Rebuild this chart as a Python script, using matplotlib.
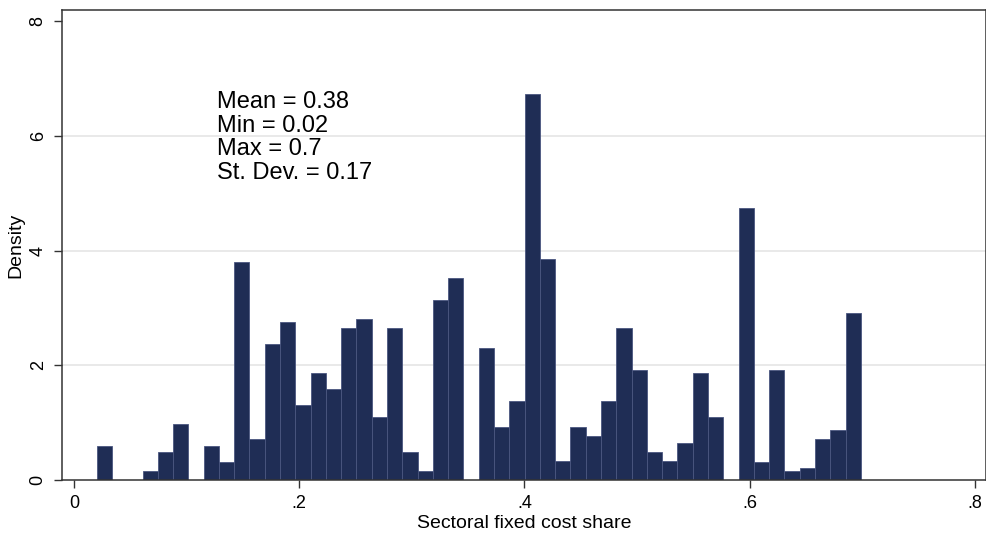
import numpy as np
import matplotlib.pyplot as plt

plt.rcParams['font.family'] = ['Liberation Sans', 'DejaVu Sans']

# histogram of sectoral fixed cost shares: 50 equal-width bins between min and max
bin_lo = 0.0201
bin_hi = 0.6988
density = [0.595, 0.0, 0.0, 0.152, 0.484, 0.98, 0.0, 0.595, 0.32, 3.806,
           0.71, 2.37, 2.757, 1.31, 1.87, 1.59, 2.645, 2.81, 1.10, 2.645,
           0.49, 0.157, 3.14, 3.53, 0.0, 2.31, 0.927, 1.376, 6.73, 3.86,
           0.327, 0.927, 0.764, 1.376, 2.645, 1.923, 0.49, 0.327, 0.653, 1.866,
           1.10, 0.0, 4.74, 0.32, 1.92, 0.152, 0.215, 0.71, 0.88, 2.915]

summary_lines = ["Mean = 0.38", "Min = 0.02", "Max = 0.7", "St. Dev. = 0.17"]

x_ticks = [0, 0.2, 0.4, 0.6, 0.8]
x_ticklabels = ["0", ".2", ".4", ".6", ".8"]
y_ticks = [0, 2, 4, 6, 8]

edges = np.linspace(bin_lo, bin_hi, len(density) + 1)
widths = np.diff(edges)

fig = plt.figure(figsize=(9.87, 5.39), dpi=100)
ax = fig.add_axes([0.0628, 0.1095, 0.9362, 0.8719])

ax.bar(edges[:-1], density, width=widths, align='edge',
       color='#1f2d55', edgecolor='#4a5680', linewidth=0.6, zorder=2)

ax.set_xlim(-0.0107, 0.8100)
ax.set_ylim(0, 8.2)

ax.set_xticks(x_ticks)
ax.set_xticklabels(x_ticklabels)
ax.set_yticks(y_ticks)
ax.set_yticklabels([str(t) for t in y_ticks], rotation=90, va='center')
ax.tick_params(axis='both', direction='out', length=6, width=1.0,
               color='#333333', labelsize=13, pad=5)

# horizontal grid at interior ticks only
for yv in y_ticks[1:-1]:
    ax.axhline(yv, color='#e3e3e3', linewidth=1.1, zorder=1)

for side in ['top', 'right', 'bottom', 'left']:
    ax.spines[side].set_color('#333333')
    ax.spines[side].set_linewidth(1.1)

ax.set_xlabel("Sectoral fixed cost share", fontsize=14, labelpad=2)
ax.set_ylabel("Density", fontsize=14, labelpad=4)

y0 = 6.60
for i, line in enumerate(summary_lines):
    ax.text(0.127, y0 - 0.415 * i, line, fontsize=17, va='center', ha='left',
            zorder=3)

fig.savefig("out.png", dpi=100)
